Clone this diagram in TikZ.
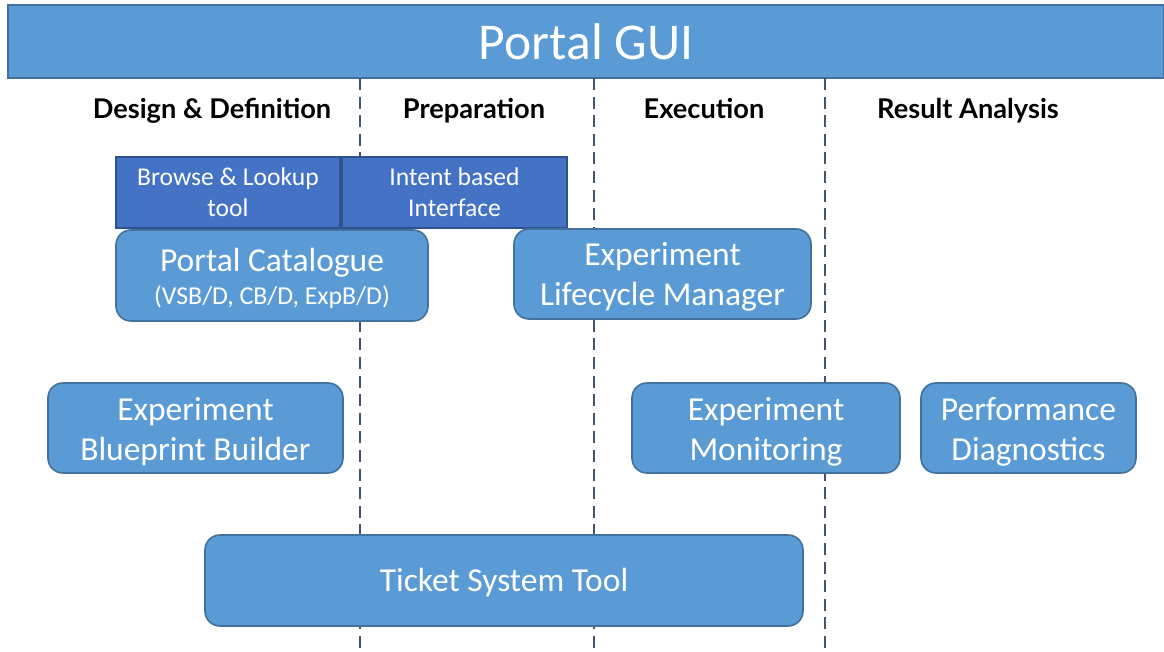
\documentclass[tikz,border=0pt]{standalone}
\usepackage{fontspec}
\setmainfont{Carlito}
\newfontfamily\headfont{Lato}
\definecolor{boxfill}{HTML}{5B9BD5}
\definecolor{boxline}{HTML}{41719C}
\definecolor{darkfill}{HTML}{4472C4}
\definecolor{darkline}{HTML}{2F528F}
\definecolor{dashcol}{HTML}{44546A}
\tikzset{
  rbox/.style={draw=boxline, fill=boxfill, line width=0.8pt, rounded corners=7.5pt, inner sep=0pt},
  boxtext/.style={text=white, align=center, inner sep=0pt, font=\fontsize{16.75pt}{20pt}\selectfont},
  dbox/.style={draw=darkline, fill=darkfill, line width=0.8pt, inner sep=0pt,
    text=white, align=center, font=\fontsize{12.8pt}{15.5pt}\selectfont},
  phase/.style={font=\headfont\bfseries\fontsize{13.6pt}{15pt}\selectfont, text=black, inner sep=0pt, anchor=base},
  divider/.style={draw=dashcol, line width=1.3pt, dash pattern=on 6pt off 3.3pt},
}
\begin{document}
\begin{tikzpicture}[x=0.5pt,y=-0.5pt]
\useasboundingbox (0,0) rectangle (1164,652);
% top bar
\node[draw=boxline, fill=boxfill, line width=0.8pt, inner sep=0pt, minimum width=578pt, minimum height=36.5pt,
  text=white, font=\fontsize{25.8pt}{30pt}\selectfont] (gui) at (586,41.5) {Portal GUI};
% dividers
\coordinate (d1t) at (360,78); \coordinate (d1b) at (360,652);
\coordinate (d2t) at (594,78); \coordinate (d2b) at (594,652);
\coordinate (d3t) at (825,78); \coordinate (d3b) at (825,652);
\draw[divider] (d1t) -- (d1b);
\draw[divider] (d2t) -- (d2b);
\draw[divider] (d3t) -- (d3b);
% phase headers
\node[phase] (h1) at (212,118.5) {Design \& Definition};
\node[phase] (h2) at (474,118.5) {Preparation};
\node[phase] (h3) at (704,118.5) {Execution};
\node[phase] (h4) at (968,118.5) {Result Analysis};
% dark boxes
\node[dbox, minimum width=112pt, minimum height=35.5pt] (browse) at (228,192.5) {Browse \& Lookup\\tool};
\node[dbox, minimum width=112.5pt, minimum height=35.5pt] (intent) at (454.5,192.5) {Intent based\\Interface};
% rounded boxes
\node[rbox, minimum width=156pt, minimum height=45.5pt] (catalogue) at (272,275.5) {};
\node[boxtext] (catalogueT) at ([yshift=-1.5pt]catalogue.center)
  {Portal Catalogue\\[-3.5pt]{\fontsize{12.9pt}{15pt}\selectfont (VSB/D, CB/D, ExpB/D)}};
\node[rbox, minimum width=148.5pt, minimum height=45pt] (elm) at (662.5,274) {};
\node[boxtext] (elmT) at ([yshift=-1.5pt]elm.center) {Experiment\\Lifecycle Manager};
\node[rbox, minimum width=147.5pt, minimum height=45pt] (ebb) at (195.5,428) {};
\node[boxtext] (ebbT) at ([yshift=-2pt]ebb.center) {Experiment\\Blueprint Builder};
\node[rbox, minimum width=134pt, minimum height=45pt] (mon) at (766,428) {};
\node[boxtext] (monT) at ([yshift=-2pt]mon.center) {Experiment\\Monitoring};
\node[rbox, minimum width=107.5pt, minimum height=45pt] (perf) at (1028.5,428) {};
\node[boxtext] (perfT) at ([yshift=-2pt]perf.center) {Performance\\Diagnostics};
\node[rbox, minimum width=299pt, minimum height=45.5pt] (ticket) at (504,580.5) {};
\node[boxtext] (ticketT) at ([yshift=-1pt]ticket.center) {Ticket System Tool};
\end{tikzpicture}
\end{document}
